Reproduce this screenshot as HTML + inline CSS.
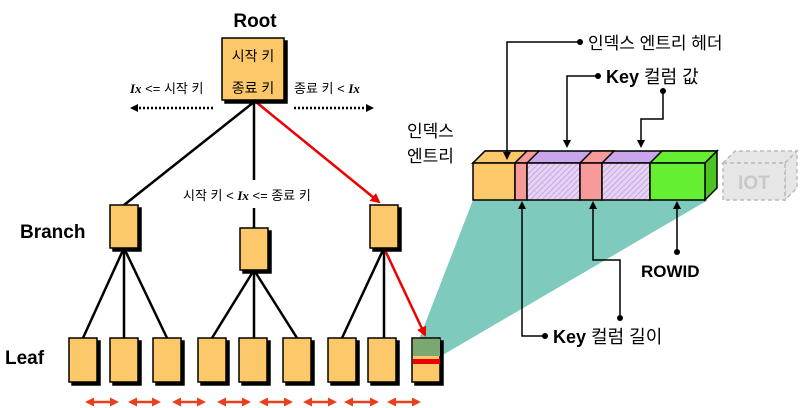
<!DOCTYPE html>
<html><head><meta charset="utf-8"><style>
html,body{margin:0;padding:0;background:#fff;width:800px;height:408px;overflow:hidden}
text{font-family:"Liberation Sans","Noto Sans CJK KR",sans-serif}
</style></head><body>
<svg width="800" height="408" viewBox="0 0 800 408" xmlns="http://www.w3.org/2000/svg">
<defs>
<pattern id="h" width="4" height="4" patternUnits="userSpaceOnUse" patternTransform="rotate(45)">
<rect width="4" height="4" fill="#e6d2f2"/><line x1="0" y1="0" x2="0" y2="4" stroke="#b58fd8" stroke-width="1.2"/></pattern>
<marker id="ab" markerWidth="8" markerHeight="8" refX="6" refY="4" orient="auto" markerUnits="userSpaceOnUse"><path d="M0,0 L8,4 L0,8 z" fill="#000"/></marker>
<marker id="ar" markerWidth="10" markerHeight="10" refX="8" refY="5" orient="auto" markerUnits="userSpaceOnUse"><path d="M0,0 L10,5 L0,10 z" fill="#e00"/></marker>
<marker id="ao" markerWidth="9" markerHeight="9" refX="6" refY="4.5" orient="auto-start-reverse" markerUnits="userSpaceOnUse"><path d="M0,0 L9,4.5 L0,9 z" fill="#e8401c"/></marker>
</defs>

<polygon points="473,200 708,200 441,356 418,342" fill="#7ecabd"/>

<g stroke="#000" stroke-width="2.5" fill="none">
<line x1="254" y1="102" x2="124" y2="205"/>
<line x1="254" y1="102" x2="254" y2="180"/>
<line x1="254" y1="208" x2="254" y2="228"/>
<line x1="124" y1="248" x2="83" y2="338"/>
<line x1="124" y1="248" x2="124" y2="338"/>
<line x1="124" y1="248" x2="167" y2="338"/>
<line x1="254" y1="270" x2="212" y2="338"/>
<line x1="254" y1="270" x2="254" y2="338"/>
<line x1="254" y1="270" x2="297" y2="338"/>
<line x1="384" y1="248" x2="342" y2="338"/>
<line x1="384" y1="248" x2="384" y2="338"/>
</g>
<g stroke="#e00" stroke-width="2.5" fill="none">
<line x1="256" y1="102" x2="379" y2="202" marker-end="url(#ar)"/>
<line x1="384" y1="248" x2="425" y2="335" marker-end="url(#ar)"/>
</g>

<g stroke="#000" stroke-width="1.5">
<rect x="225" y="41" width="62" height="62" fill="#000"/>
<rect x="222" y="38" width="62" height="62" fill="#fdc86a"/>
<g fill="#000">
<rect x="113" y="208" width="28" height="43"/><rect x="243" y="231" width="28" height="42"/><rect x="373" y="208" width="28" height="43"/>
<rect x="72" y="341" width="28" height="44"/><rect x="113" y="341" width="28" height="44"/><rect x="156" y="341" width="28" height="44"/>
<rect x="201" y="341" width="28" height="44"/><rect x="242" y="341" width="28" height="44"/><rect x="286" y="341" width="28" height="44"/>
<rect x="331" y="341" width="28" height="44"/><rect x="371" y="341" width="28" height="44"/><rect x="415" y="341" width="28" height="44"/>
</g>
<g fill="#fdc86a">
<rect x="110" y="205" width="28" height="43"/><rect x="240" y="228" width="28" height="42"/><rect x="370" y="205" width="28" height="43"/>
<rect x="69" y="338" width="28" height="44"/><rect x="110" y="338" width="28" height="44"/><rect x="153" y="338" width="28" height="44"/>
<rect x="198" y="338" width="28" height="44"/><rect x="239" y="338" width="28" height="44"/><rect x="283" y="338" width="28" height="44"/>
<rect x="328" y="338" width="28" height="44"/><rect x="368" y="338" width="28" height="44"/><rect x="412" y="338" width="28" height="44"/>
</g>
</g>
<rect x="413" y="339" width="27" height="17" fill="#7aa870"/>
<rect x="413" y="359" width="27" height="5" fill="#e00"/>

<g stroke="#e8401c" stroke-width="2.5" marker-start="url(#ao)" marker-end="url(#ao)">
<line x1="88" y1="402" x2="116" y2="402"/><line x1="131" y1="402" x2="158" y2="402"/>
<line x1="175" y1="402" x2="203" y2="402"/><line x1="220" y1="402" x2="248" y2="402"/>
<line x1="262" y1="402" x2="290" y2="402"/><line x1="306" y1="402" x2="334" y2="402"/>
<line x1="347" y1="402" x2="376" y2="402"/><line x1="390" y1="402" x2="418" y2="402"/>
</g>

<g stroke="#000" stroke-width="2.5" stroke-dasharray="2,2">
<line x1="213" y1="108" x2="132" y2="108" marker-end="url(#ab)"/>
<line x1="294" y1="108" x2="372" y2="108" marker-end="url(#ab)"/>
</g>

<text x="255" y="27" font-size="19" font-weight="bold" text-anchor="middle">Root</text>
<text x="253" y="61" font-size="14" text-anchor="middle">시작 키</text>
<text x="253" y="93" font-size="14" text-anchor="middle">종료 키</text>
<text x="130" y="93" font-size="13"><tspan font-family="Liberation Serif" font-style="italic" font-weight="bold">Ix</tspan> &lt;= 시작 키</text>
<text x="294" y="93" font-size="13">종료 키 &lt; <tspan font-family="Liberation Serif" font-style="italic" font-weight="bold">Ix</tspan></text>
<text x="183" y="200" font-size="13">시작 키 &lt; <tspan font-family="Liberation Serif" font-style="italic" font-weight="bold">Ix</tspan>  &lt;= 종료 키</text>
<text x="20" y="238" font-size="19" font-weight="bold">Branch</text>
<text x="5" y="364" font-size="19" font-weight="bold">Leaf</text>

<g stroke="#000" stroke-width="1.5">
<polygon points="473,163 485,151 717,151 705,163" fill="#c9a6ec"/>
<polygon points="473,163 485,151 527,151 515,163" fill="#fdc86a"/>
<polygon points="515,163 527,151 539,151 527,163" fill="#f79a9a"/>
<polygon points="580,163 592,151 614,151 602,163" fill="#f79a9a"/>
<polygon points="650,163 662,151 717,151 705,163" fill="#66ee33"/>
<polygon points="705,163 717,151 717,188 705,200" fill="#4cc422"/>
<rect x="473" y="163" width="42" height="37" fill="#fdc86a"/>
<rect x="515" y="163" width="12" height="37" fill="#f79a9a"/>
<rect x="527" y="163" width="53" height="37" fill="url(#h)"/>
<rect x="580" y="163" width="22" height="37" fill="#f79a9a"/>
<rect x="602" y="163" width="48" height="37" fill="url(#h)"/>
<rect x="650" y="163" width="55" height="37" fill="#66ee33"/>
</g>
<g stroke="#bbb" stroke-width="1.5" stroke-dasharray="4,3" fill="#e6e6e6">
<polygon points="723,163 735,151 797,151 785,163"/>
<polygon points="785,163 797,151 797,188 785,200"/>
<rect x="723" y="163" width="62" height="37"/>
</g>
<text x="754" y="189" font-size="19" font-weight="bold" fill="#c8c8c8" text-anchor="middle">IOT</text>

<text x="407" y="137" font-size="17">인덱스</text>
<text x="407" y="162" font-size="17">엔트리</text>

<g stroke="#000" stroke-width="1.5" fill="none">
<polyline points="580,42 507,42 507,158" marker-end="url(#ab)"/>
<polyline points="598,76 567,76 567,146" marker-end="url(#ab)"/>
<polyline points="663,91 663,119 641,119 641,146" marker-end="url(#ab)"/>
<polyline points="545,336 522,336 522,203" marker-end="url(#ab)"/>
<polyline points="620,318 620,260 593,260 593,203" marker-end="url(#ab)"/>
<polyline points="677,252 677,203" marker-end="url(#ab)"/>
</g>
<g fill="#000">
<circle cx="580" cy="42" r="3"/><circle cx="598" cy="76" r="3"/><circle cx="663" cy="91" r="3"/>
<circle cx="545" cy="336" r="3"/><circle cx="620" cy="318" r="3"/><circle cx="677" cy="252" r="3"/>
</g>
<text x="588" y="49" font-size="17">인덱스 엔트리 헤더</text>
<text x="606" y="83" font-size="18"><tspan font-weight="bold">Key</tspan> 컬럼 값</text>
<text x="553" y="343" font-size="18"><tspan font-weight="bold">Key</tspan> 컬럼 길이</text>
<text x="641" y="277" font-size="17" font-weight="bold">ROWID</text>
</svg>
</body></html>
